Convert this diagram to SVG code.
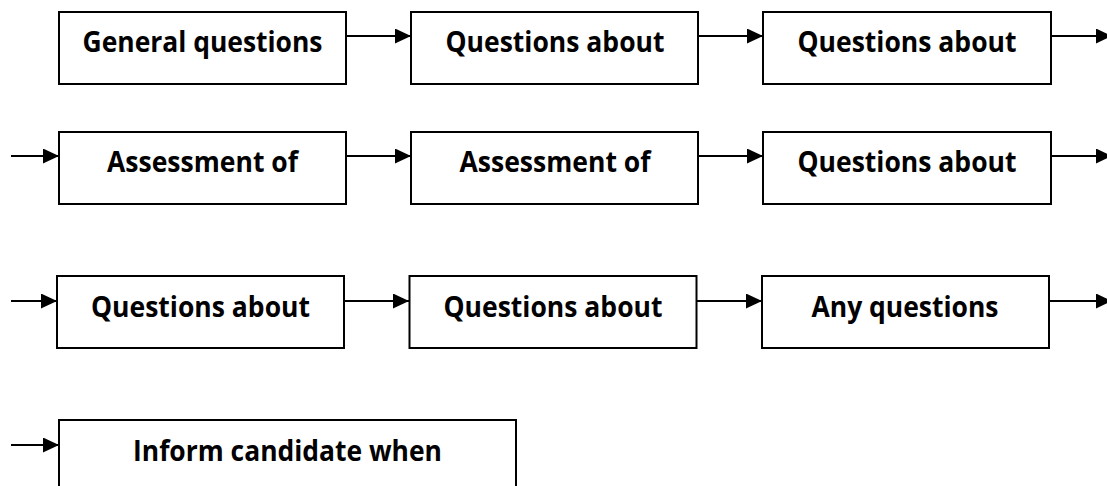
<svg xmlns="http://www.w3.org/2000/svg" width="1107" height="486" viewBox="0 0 1107 486">
<style>
.box{fill:#fff;stroke:#000;stroke-width:2}
.lbl{font-family:"Open Sans","Noto Sans","Liberation Sans",sans-serif;font-weight:bold;font-size:28px;fill:#000;text-anchor:middle}
.con{stroke:#000;stroke-width:2;fill:none;marker-end:url(#ah)}
</style>
<defs>
<marker id="ah" markerUnits="userSpaceOnUse" markerWidth="16" markerHeight="15" viewBox="0 0 16 15" refX="16" refY="7.5" orient="auto">
<path d="M0,0 L16,7.5 L0,15 z" fill="#000"/>
</marker>
</defs>
<g id="connectors">
<line class="con" x1="346" y1="36" x2="411" y2="36"/>
<line class="con" x1="698" y1="36" x2="763" y2="36"/>
<line class="con" x1="1051" y1="36" x2="1112" y2="36"/>
<line class="con" x1="11" y1="156" x2="59" y2="156"/>
<line class="con" x1="346" y1="156" x2="411" y2="156"/>
<line class="con" x1="698" y1="156" x2="763" y2="156"/>
<line class="con" x1="1051" y1="156" x2="1112" y2="156"/>
<line class="con" x1="11" y1="301" x2="57" y2="301"/>
<line class="con" x1="344" y1="301" x2="409" y2="301"/>
<line class="con" x1="697" y1="301" x2="762" y2="301"/>
<line class="con" x1="1049" y1="301" x2="1112" y2="301"/>
<line class="con" x1="11" y1="445" x2="59" y2="445"/>
</g>
<g id="n1"><rect class="box" x="59" y="12" width="287" height="72"/><text class="lbl" x="202.5" y="52" textLength="240" lengthAdjust="spacingAndGlyphs">General questions</text></g>
<g id="n2"><rect class="box" x="411" y="12" width="287" height="72"/><text class="lbl" x="555" y="52" textLength="219" lengthAdjust="spacingAndGlyphs">Questions about</text></g>
<g id="n3"><rect class="box" x="763" y="12" width="288" height="72"/><text class="lbl" x="907" y="52" textLength="219" lengthAdjust="spacingAndGlyphs">Questions about</text></g>
<g id="n4"><rect class="box" x="59" y="132" width="287" height="72"/><text class="lbl" x="202.5" y="172" textLength="191" lengthAdjust="spacingAndGlyphs">Assessment of</text></g>
<g id="n5"><rect class="box" x="411" y="132" width="287" height="72"/><text class="lbl" x="555" y="172" textLength="191" lengthAdjust="spacingAndGlyphs">Assessment of</text></g>
<g id="n6"><rect class="box" x="763" y="132" width="288" height="72"/><text class="lbl" x="907" y="172" textLength="219" lengthAdjust="spacingAndGlyphs">Questions about</text></g>
<g id="n7"><rect class="box" x="57" y="276" width="287" height="72"/><text class="lbl" x="200.5" y="317" textLength="219" lengthAdjust="spacingAndGlyphs">Questions about</text></g>
<g id="n8"><rect class="box" x="409.5" y="276" width="287" height="72"/><text class="lbl" x="553" y="317" textLength="219" lengthAdjust="spacingAndGlyphs">Questions about</text></g>
<g id="n9"><rect class="box" x="762" y="276" width="287" height="72"/><text class="lbl" x="905" y="317" textLength="187" lengthAdjust="spacingAndGlyphs">Any questions</text></g>
<g id="n10"><rect class="box" x="59" y="420" width="457" height="80"/><text class="lbl" x="287.5" y="461" textLength="309" lengthAdjust="spacingAndGlyphs">Inform candidate when</text></g>
</svg>
